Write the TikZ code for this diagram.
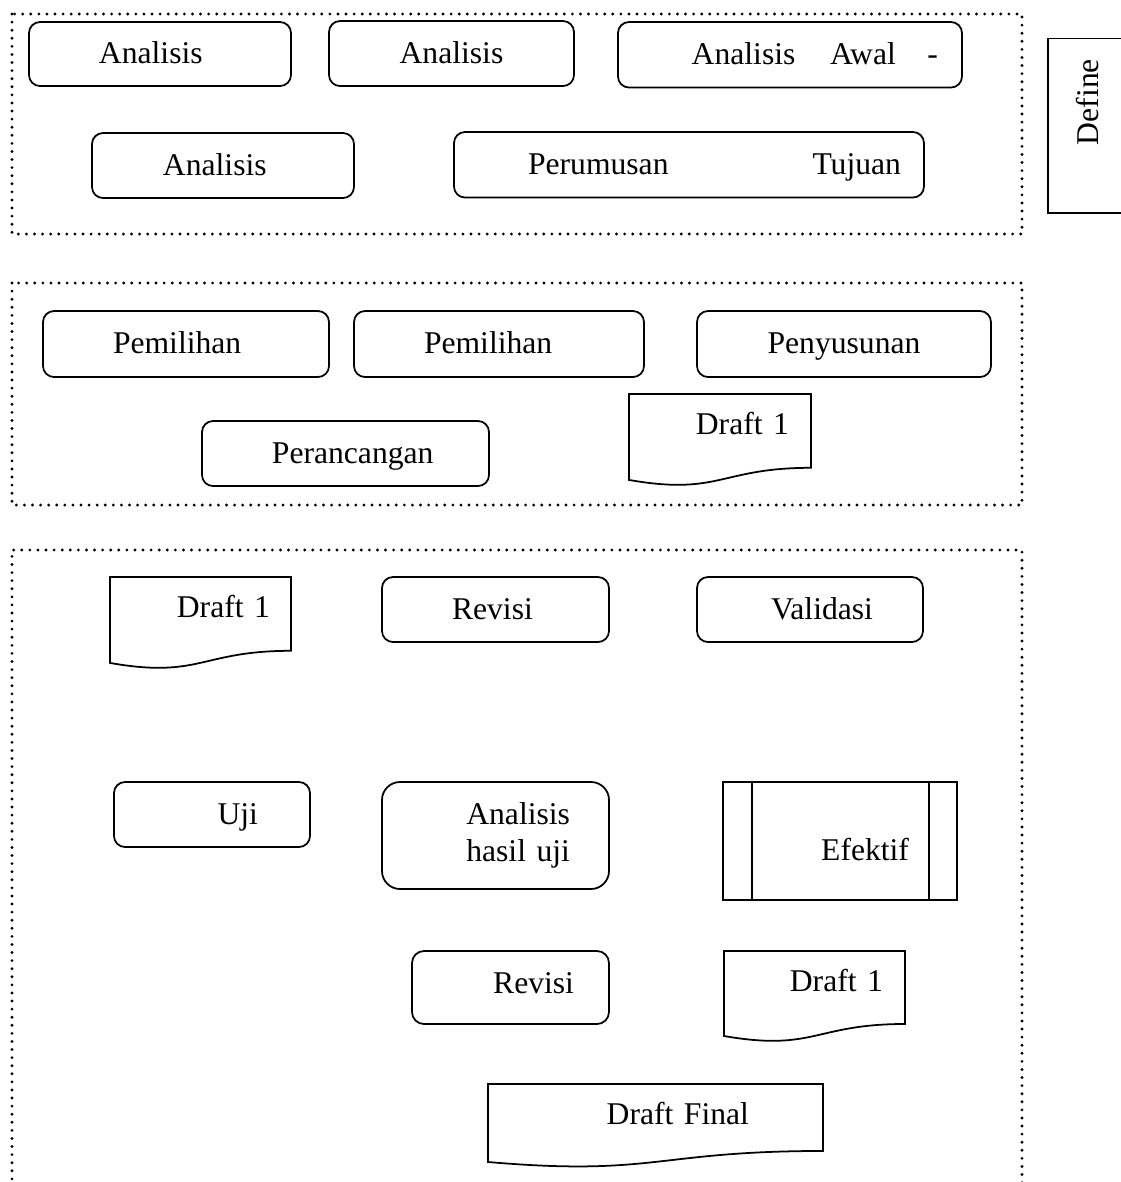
\documentclass[tikz,border=0pt]{standalone}
\usepackage{fontspec}
\setmainfont{Liberation Serif}
\usetikzlibrary{calc}

\tikzset{
	box/.style={draw, rectangle, rounded corners=0.11cm, line width=0.5pt, outer sep=0pt, text height=0.75em, text depth=0.21em},
	docbox/.style={rectangle, outer sep=0pt, text height=0.45em, text depth=0.76em,
		append after command={\pgfextra{\draw[line width=0.5pt] (\tikzlastnode.north west) -- (\tikzlastnode.north east) -- ($(\tikzlastnode.north east)!0.802!(\tikzlastnode.south east)$) .. controls ($(\tikzlastnode.north)!0.802!(\tikzlastnode.south)$) and ($(\tikzlastnode.north)!1.107!(\tikzlastnode.south)$) .. ($(\tikzlastnode.north west)!0.934!(\tikzlastnode.south west)$) -- cycle;}}},
	process/.style={draw, rectangle, line width=0.5pt, outer sep=0pt,
		append after command={\pgfextra{\draw[line width=0.5pt] ([xshift=0.29cm]\tikzlastnode.north west) -- ([xshift=0.29cm]\tikzlastnode.south west) ([xshift=-0.28cm]\tikzlastnode.north east) -- ([xshift=-0.28cm]\tikzlastnode.south east);}}},
	dotframe/.style={line width=0.9pt, line cap=round, dash pattern=on 0pt off 2.3pt}
}

\begin{document}
\begin{tikzpicture}[font=\fontsize{9}{10.4}\selectfont]
	\useasboundingbox (0,0) rectangle (11.21,-11.82);
	% groups
	\draw[dotframe] (0.12,-0.14) rectangle (10.22,-2.34);
	\draw[dotframe] (0.12,-2.83) rectangle (10.22,-5.05);
	\draw[dotframe] (0.12,-11.95) -- (0.12,-5.50) -- (10.22,-5.50) -- (10.22,-11.95);
	% define
	\node[box, minimum width=2.62cm, minimum height=0.64cm, text width=1.22cm, align=left] (Analisis1) at (1.60, -0.54) {Analisis};
	\node[box, minimum width=2.45cm, minimum height=0.65cm] (Analisis2) at (4.515, -0.535) {Analisis};
	\node[box, minimum width=3.44cm, minimum height=0.655cm, text width=2.96cm, align=right] (Analisis Awal) at (7.90, -0.5475) {Analisis\hspace{1.1em}Awal\hspace{1em}-};
	\node[box, minimum width=2.62cm, minimum height=0.65cm, text width=1.20cm, align=left] (Analisis3) at (2.23, -1.655) {Analisis};
	\node[box, minimum width=4.70cm, minimum height=0.655cm, text width=4.24cm, align=right] (Perumusan Tujuan) at (6.89, -1.6475) {Perumusan\hspace{4.55em}Tujuan};
	\node[draw, rectangle, line width=0.5pt, rotate=90, minimum width=1.744cm, minimum height=1.02cm, text width=1.336cm, align=right, text height=0.45em, text depth=0.45em] (Define) at (10.99, -1.258) {Define};
	% design
	\node[box, minimum width=2.86cm, minimum height=0.66cm, text width=1.46cm, align=left] (Pemilihan1) at (1.86, -3.44) {Pemilihan};
	\node[box, minimum width=2.90cm, minimum height=0.66cm, text width=1.50cm, align=left] (Pemilihan2) at (4.99, -3.44) {Pemilihan};
	\node[box, minimum width=2.94cm, minimum height=0.66cm] (Penyusunan) at (8.44, -3.44) {Penyusunan};
	\node[box, minimum width=2.87cm, minimum height=0.65cm, text width=1.76cm, align=right] (Perancangan) at (3.455, -4.535) {Perancangan};
	\node[docbox, minimum width=1.82cm, minimum height=0.92cm, text width=1.38cm, align=right] (Draft1a) at (7.20, -4.40) {Draft 1};
	% develop
	\node[docbox, minimum width=1.81cm, minimum height=0.92cm, text width=1.39cm, align=right] (Draft1b) at (2.005, -6.23) {Draft 1};
	\node[box, minimum width=2.27cm, minimum height=0.65cm, text width=0.87cm, align=left] (Revisi1) at (4.955, -6.095) {Revisi};
	\node[box, minimum width=2.26cm, minimum height=0.65cm, text width=1.26cm, align=right] (Validasi) at (8.10, -6.095) {Validasi};
	\node[box, minimum width=1.96cm, minimum height=0.65cm, text width=0.92cm, align=right] (Uji) at (2.12, -8.145) {Uji};
	\node[box, rounded corners=0.18cm, minimum width=2.27cm, minimum height=1.07cm, text width=1.49cm, align=right, text height={}, text depth={}] (Analisis hasil uji) at (4.955, -8.355) {Analisis\\hasil uji};
	\node[process, minimum width=2.34cm, minimum height=1.18cm, text width=1.38cm, align=right, text height=1.2em, text depth=0.07em] (Efektif) at (8.40, -8.41) {Efektif};
	\node[box, rounded corners=0.12cm, minimum width=1.97cm, minimum height=0.73cm, text width=1.27cm, align=right, text height=0.6em, text depth=0.25em] (Revisi2) at (5.105, -9.875) {Revisi};
	\node[docbox, minimum width=1.81cm, minimum height=0.91cm, text width=1.37cm, align=right] (Draft1c) at (8.145, -9.965) {Draft 1};
	\node[docbox, minimum width=3.35cm, minimum height=0.835cm, text width=1.87cm, align=right, text height=0.5em, text depth=0.56em] (Draft Final) at (6.555, -11.2575) {Draft Final};
\end{tikzpicture}
\end{document}
